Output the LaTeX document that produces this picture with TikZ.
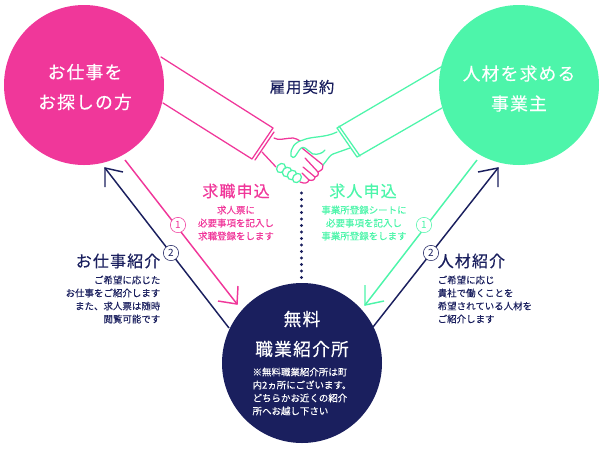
\documentclass[tikz,border=0pt]{standalone}
\usepackage{fontspec}
\setmainfont{Noto Sans CJK JP}
\newfontfamily\headfont[FakeBold=0.35,LetterSpace=7]{Noto Sans CJK JP}
\newfontfamily\bodyfont[FakeBold=0.12]{Noto Sans CJK JP}
\usetikzlibrary{positioning,calc}
\definecolor{pinkC}{HTML}{F0379A}
\definecolor{greenC}{HTML}{4DF5AA}
\definecolor{navyC}{HTML}{1A1F5E}
\tikzset{x=0.75pt,y=-0.75pt}
\begin{document}
\begin{tikzpicture}
  [officeN/.style={circle,minimum size=120pt,inner sep=0pt},
   officeT/.style={text=white,align=center,font=\headfont\fontsize{13.3}{22.5}\selectfont},
   numN/.style={circle,draw,fill=white,minimum size=11.5pt,inner sep=0pt,font=\fontsize{7.5}{8}\selectfont},
   headN/.style={font=\headfont\fontsize{12}{14}\selectfont},
   bodyN/.style={font=\bodyfont\fontsize{7.1}{9.75}\selectfont},
   flow/.style={line width=1.1pt},
   hand/.style={line width=0.95pt,line join=round,line cap=round}]

  \useasboundingbox (0,0) rectangle (600,462);

  \node[officeN,fill=pinkC] (seeker) at (84,85) {};
  \node[officeN,fill=greenC] (employer) at (519,85) {};
  \node[officeN,fill=navyC] (office) at (302,363) {};

  \node[officeT] (seekerT) at (85,87) {お仕事を\\お探しの方};
  \node[officeT] (employerT) at (519,88.5) {人材を求める\\事業主};
  \node[officeT] (officeH) at (302,334) {無料\\職業紹介所};
  \node[text=white,align=left,font=\bodyfont\fontsize{7.1}{9.75}\selectfont] (officeB) at (302,391.5) {※無料職業紹介所は町\\内2ヵ所にございます。\\どちらかお近くの紹介\\所へお越し下さい};

  \coordinate (pS) at (125,160);
  \coordinate (pE) at (237,304);
  \coordinate (gS) at (477,160);
  \coordinate (gE) at (365,305);
  \coordinate (nlS) at (229,328);
  \coordinate (nlE) at (105,168);
  \coordinate (nrS) at (373,327);
  \coordinate (nrE) at (498,168);

  % arrows
  \draw[flow,pinkC] (pS) -- (pE);
  \draw[flow,pinkC] (238,286) -- (pE) -- (218,301);
  \draw[flow,greenC] (gS) -- (gE);
  \draw[flow,greenC] (365,285) -- (gE) -- (384,301);
  \draw[flow,navyC] (nlS) -- (nlE);
  \draw[flow,navyC] (123,172) -- (nlE) -- (105,187);
  \draw[flow,navyC] (nrS) -- (nrE);
  \draw[flow,navyC] (478,172) -- (nrE) -- (498,187);

  \node[numN,draw=pinkC,text=pinkC] (n1l) at (178,225) {1};
  \node[numN,draw=navyC,text=navyC] (n2l) at (171,253) {2};
  \node[numN,draw=greenC,text=greenC] (n1r) at (424,225) {1};
  \node[numN,draw=navyC,text=navyC] (n2r) at (431,253) {2};

  % dots
  \foreach \y in {193,199.5,...,279}
    \fill[navyC] (301.5,\y) circle (1.25pt);

  % sleeves
  \draw[hand,pinkC] (161,57) -- (273,128) -- (252,159) -- (163,103);
  \draw[hand,pinkC] (274,132) -- (255,160);
  \draw[hand,greenC] (441,67) -- (337,128) -- (357,157) -- (442,108);
  \draw[hand,greenC] (339,126) -- (360,156);

  % hands
  \draw[hand,pinkC] (274,138) .. controls (278,141) and (286,138) .. (293,138)
    .. controls (296,138) and (298,140) .. (300,141);
  \draw[hand,pinkC] (302,148) -- (323,165) .. controls (324,168) and (322,170) .. (318,172)
    .. controls (319,175) and (317,177) .. (315,177)
    .. controls (315,180) and (312,181) .. (309,180)
    .. controls (308,183) and (305,184) .. (300,182);
  \draw[hand,pinkC] (262,152) -- (276,167);
  \draw[hand,pinkC] (305,158) -- (318,172);
  \draw[hand,pinkC] (303,167) -- (315,177);
  \draw[hand,pinkC] (302,173) -- (309,180);
  \draw[hand,greenC] (337,132) .. controls (325,138) and (312,136) .. (303,140)
    .. controls (295,142) and (290,148) .. (291,156)
    .. controls (294,160) and (296,155) .. (298,152)
    .. controls (300,149) and (302,146) .. (305,148)
    .. controls (308,150) and (311,153) .. (313,154)
    .. controls (318,155) and (323,153) .. (325,150);
  \draw[hand,greenC] (323,165) .. controls (328,159) and (330,155) .. (333,154)
    -- (350,148);
  \foreach \cx/\cy/\rr in {281/168/4,287/172/4.4,292/175/4.4,297/178/4}
    \draw[hand,greenC,fill=white,rotate around={-40:(\cx,\cy)}] (\cx,\cy) ellipse ({\rr*0.75pt} and {5*0.75pt});

  % labels
  \node[navyC,font=\headfont\fontsize{11.5}{13}\selectfont] (contract) at (302,87) {雇用契約};
  \node[headN,pinkC] (reqL) at (236,191) {求職申込};
  \node[bodyN,pinkC,align=center] (reqLb) at (236,223) {求人票に\\必要事項を記入し\\求職登録をします};
  \node[headN,greenC] (reqR) at (363,191) {求人申込};
  \node[bodyN,greenC,align=center] (reqRb) at (364,223) {事業所登録シートに\\必要事項を記入し\\事業所登録をします};
  \node[headN,navyC,anchor=east] (introL) at (165,261) {お仕事紹介};
  \node[bodyN,navyC,align=right,anchor=east] (introLb) at (165,299.5) {ご希望に応じた\\お仕事をご紹介します\\また、求人票は随時\\閲覧可能です};
  \node[headN,navyC,anchor=west] (introR) at (433,261) {人材紹介};
  \node[bodyN,navyC,align=left,anchor=west] (introRb) at (433,299.5) {ご希望に応じ\\貴社で働くことを\\希望されている人材を\\ご紹介します};
\end{tikzpicture}
\end{document}
